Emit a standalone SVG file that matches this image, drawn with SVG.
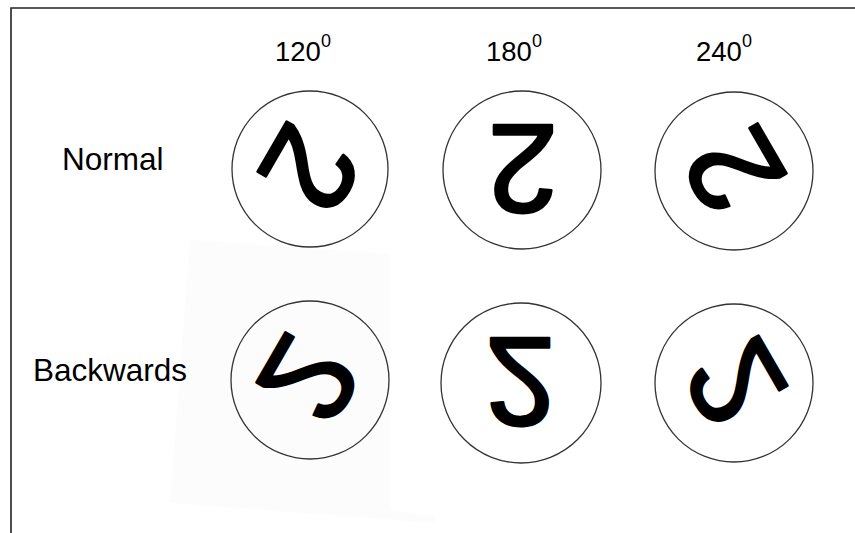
<svg xmlns="http://www.w3.org/2000/svg" width="855" height="533" viewBox="0 0 855 533">
<style>
.lbl{font-family:"Liberation Sans",Arial,sans-serif;font-size:31.5px;fill:#000}
.hdr{font-family:"Liberation Sans",Arial,sans-serif;font-size:27.5px;fill:#000}
.sup{font-size:18px}
.ring{fill:none;stroke:#333;stroke-width:1.3}
.two{font-family:"Liberation Sans",Arial,sans-serif;font-size:127px;fill:#000;stroke:#000;stroke-width:2.6;stroke-linejoin:round;text-anchor:middle}
</style>
<defs>
<clipPath id="clipR"><rect x="0" y="0" width="602.5" height="533"/></clipPath>
</defs>
<rect x="0" y="0" width="855" height="533" fill="#fff"/>
<polygon points="190,240 390,254 390,510 435,517 435,523 170,503" fill="#fcfcfc"/>
<path d="M11,533 V8 H855" fill="none" stroke="#222" stroke-width="1.6"/>

<g id="headers">
<text class="hdr" x="275" y="61">120<tspan class="sup" dy="-14">0</tspan></text>
<text class="hdr" x="486" y="61">180<tspan class="sup" dy="-14">0</tspan></text>
<text class="hdr" x="696" y="61">240<tspan class="sup" dy="-14">0</tspan></text>
</g>
<g id="row-labels">
<text class="lbl" x="62" y="170">Normal</text>
<text class="lbl" x="33" y="381">Backwards</text>
</g>

<g id="normal-120">
<circle class="ring" cx="310" cy="169" r="78"/>
<text class="two" transform="translate(311,169) rotate(120)" x="0" y="45">2</text>
</g>
<g id="normal-180">
<circle class="ring" cx="522" cy="170" r="79" clip-path="url(#clipR)"/>
<text class="two" transform="translate(523,170) rotate(180)" x="0" y="45">2</text>
</g>
<g id="normal-240">
<circle class="ring" cx="734" cy="171" r="79"/>
<text class="two" transform="translate(733,171) rotate(240)" x="0" y="45">2</text>
</g>
<g id="backwards-120">
<circle class="ring" cx="310" cy="380" r="79"/>
<text class="two" transform="translate(310,380) rotate(120) scale(-1,1)" x="0" y="45">2</text>
</g>
<g id="backwards-180">
<circle class="ring" cx="521" cy="383" r="80"/>
<text class="two" transform="translate(520,383) rotate(180) scale(-1,1)" x="0" y="45">2</text>
</g>
<g id="backwards-240">
<circle class="ring" cx="734" cy="383" r="79"/>
<text class="two" transform="translate(734,383) rotate(240) scale(-1,1)" x="0" y="45">2</text>
</g>
</svg>
